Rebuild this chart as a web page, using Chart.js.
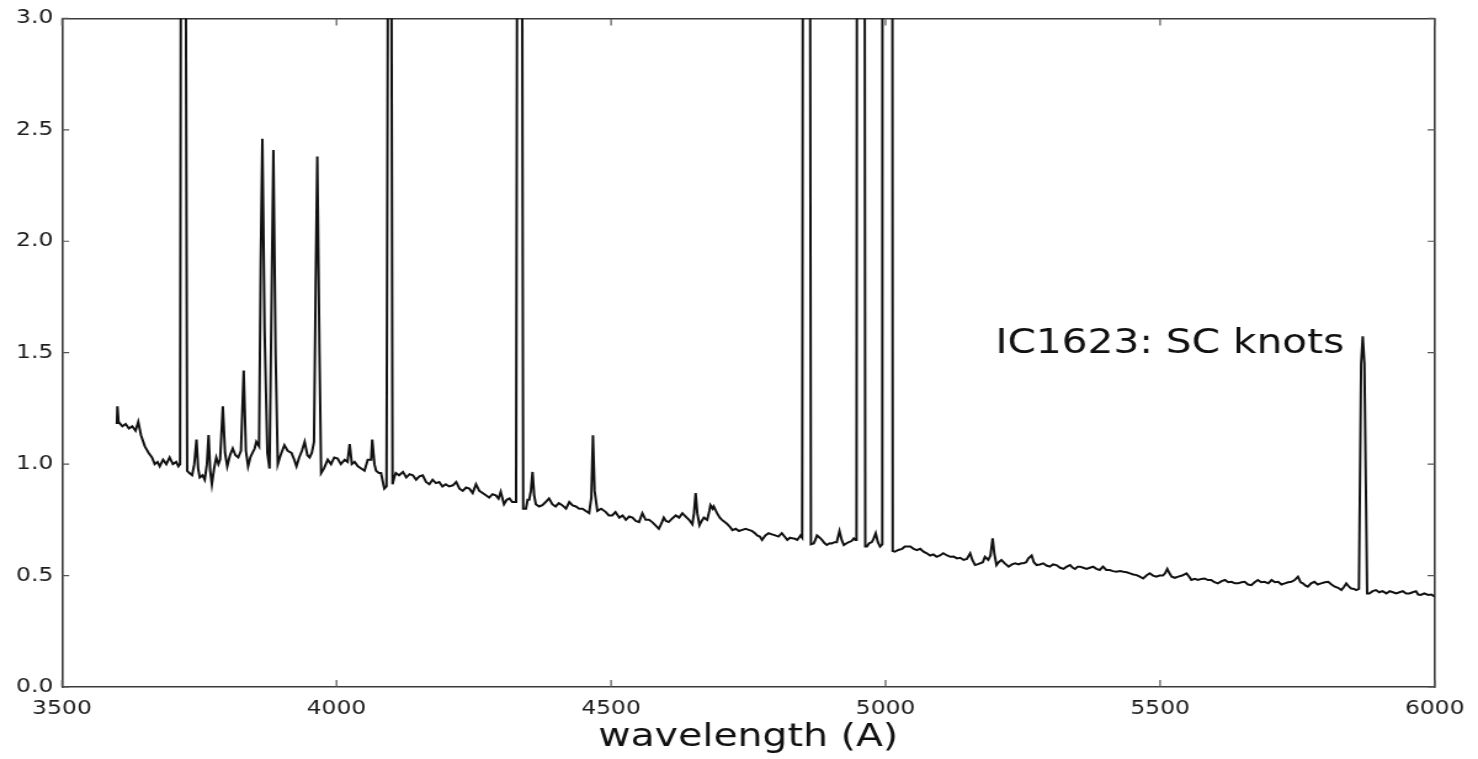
<!DOCTYPE html>
<html>
<head>
<meta charset="utf-8">
<title>IC1623: SC knots</title>
<script src="https://cdn.jsdelivr.net/npm/chart.js@4.4.1/dist/chart.umd.min.js"></script>
<style>
  html, body { margin: 0; padding: 0; background: #ffffff; overflow: hidden; }
  #spec { display: block; }
</style>
</head>
<body>
<canvas id="spec" width="1200" height="759" style="width:1478px;height:759px"></canvas>
<script>
// Observed spectrum of the IC1623 star-cluster knots (wavelength in Angstrom, relative flux)
const wavelength = [
  3600,3601,3603,3610,3616,3622,3628,3634,3639,3644,3651,3658,3664,3669,3674,3678,3684,3690,3696,3702,3708,3712,
  3715,3718,3723,3728,3732,3737,3741,3745,3748,3751,3756,3760,3764,3767,3770,3773,3777,3781,3785,3788,3793,3797,
  3801,3806,3811,3816,3821,3826,3831,3835,3839,3843,3847,3851,3854,3859,3862,3865,3869,3874,3878,3882,3885,3889,
  3893,3898,3905,3911,3918,3923,3927,3932,3937,3942,3947,3951,3955,3959,3962,3965,3969,3972,3977,3984,3990,3996,
  4002,4008,4015,4020,4024,4028,4033,4039,4045,4051,4057,4063,4065,4069,4072,4077,4081,4087,4091,4095,4099,4102,
  4105,4108,4114,4121,4127,4133,4139,4145,4151,4157,4163,4169,4175,4181,4187,4193,4199,4205,4212,4218,4224,4230,
  4236,4242,4248,4254,4260,4266,4272,4278,4284,4290,4295,4299,4305,4310,4315,4320,4324,4327,4331,4336,4340,4345,
  4348,4351,4354,4357,4360,4363,4369,4375,4381,4387,4393,4399,4405,4411,4418,4424,4430,4436,4442,4448,4454,4460,
  4464,4467,4470,4475,4482,4490,4496,4502,4508,4515,4521,4527,4533,4539,4545,4551,4557,4563,4569,4575,4581,4587,
  4592,4596,4600,4605,4611,4618,4624,4630,4636,4642,4648,4651,4654,4657,4661,4665,4669,4675,4679,4681,4685,4687,
  4693,4698,4702,4707,4711,4716,4721,4727,4733,4739,4745,4751,4757,4762,4766,4771,4775,4781,4787,4793,4799,4805,
  4811,4816,4821,4826,4830,4835,4839,4845,4848,4852,4859,4864,4869,4872,4875,4880,4884,4889,4893,4898,4902,4907,
  4911,4916,4920,4924,4929,4933,4938,4942,4945,4947,4951,4958,4963,4966,4970,4975,4978,4982,4986,4990,4994,4998,
  5005,5013,5017,5023,5030,5035,5039,5045,5051,5057,5063,5069,5075,5081,5087,5093,5099,5105,5112,5118,5124,5130,
  5136,5142,5148,5154,5158,5163,5167,5172,5177,5181,5187,5191,5195,5198,5202,5206,5211,5217,5224,5230,5236,5242,
  5247,5251,5256,5260,5266,5270,5275,5281,5287,5293,5299,5305,5311,5318,5324,5330,5336,5341,5345,5350,5354,5360,
  5366,5372,5378,5384,5390,5396,5402,5408,5414,5420,5427,5433,5439,5445,5451,5457,5463,5469,5475,5481,5487,5493,
  5499,5505,5509,5513,5517,5521,5527,5533,5540,5548,5553,5557,5563,5569,5575,5581,5587,5593,5599,5605,5612,5618,
  5624,5630,5636,5642,5648,5654,5660,5666,5672,5678,5684,5690,5697,5703,5709,5715,5721,5727,5733,5739,5745,5751,
  5756,5760,5765,5769,5775,5781,5787,5793,5800,5806,5812,5818,5824,5830,5835,5839,5844,5848,5853,5857,5862,5866,
  5869,5872,5877,5881,5887,5893,5899,5905,5912,5918,5924,5930,5936,5942,5948,5954,5960,5966,5970,5975,5981,5988,
  5994,6000
];
const flux = [
  1.18,1.26,1.19,1.17,1.18,1.16,1.17,1.15,1.19,1.13,1.08,1.05,1.03,1.00,1.01,0.99,1.02,1.00,1.03,1.00,1.01,0.99,
  1.00,5.5,5.5,0.97,0.96,0.95,1.00,1.11,0.98,0.94,0.95,0.93,1.00,1.13,0.97,0.91,0.98,1.03,1.00,1.02,1.26,1.05,
  0.99,1.04,1.07,1.04,1.03,1.06,1.42,1.06,0.99,1.03,1.05,1.07,1.10,1.08,1.90,2.46,1.60,1.05,0.98,1.80,2.41,1.50,
  1.00,1.04,1.085,1.06,1.05,1.02,0.99,1.03,1.06,1.10,1.04,1.03,1.05,1.10,1.80,2.38,1.50,0.96,0.98,1.02,1.00,1.03,
  1.025,1.00,1.02,1.01,1.09,1.00,1.01,0.99,0.98,0.97,1.02,1.02,1.11,1.00,0.97,0.96,0.96,0.89,0.90,4.5,4.5,0.91,
  0.94,0.96,0.95,0.965,0.94,0.955,0.95,0.93,0.945,0.95,0.92,0.91,0.93,0.915,0.92,0.90,0.91,0.90,0.905,0.92,0.89,0.88,
  0.895,0.89,0.87,0.91,0.88,0.87,0.86,0.85,0.865,0.86,0.845,0.876,0.82,0.84,0.846,0.83,0.83,0.83,6.0,6.0,0.80,0.80,
  0.84,0.84,0.88,0.965,0.86,0.82,0.81,0.816,0.83,0.846,0.82,0.81,0.825,0.816,0.80,0.83,0.815,0.81,0.80,0.80,0.79,0.78,
  0.85,1.13,0.88,0.79,0.80,0.786,0.77,0.77,0.785,0.76,0.77,0.75,0.765,0.76,0.745,0.74,0.78,0.75,0.75,0.74,0.725,0.71,
  0.735,0.76,0.745,0.74,0.755,0.77,0.76,0.78,0.765,0.75,0.73,0.78,0.87,0.78,0.726,0.745,0.76,0.75,0.79,0.816,0.80,0.81,
  0.78,0.76,0.75,0.74,0.733,0.72,0.704,0.71,0.70,0.705,0.71,0.705,0.70,0.69,0.68,0.675,0.66,0.68,0.69,0.685,0.68,0.675,
  0.69,0.675,0.66,0.67,0.667,0.665,0.66,0.68,0.67,9.0,9.0,0.64,0.644,0.66,0.68,0.67,0.66,0.645,0.637,0.645,0.644,0.65,
  0.65,0.70,0.66,0.637,0.645,0.65,0.655,0.667,0.66,0.66,14.0,14.0,0.63,0.63,0.645,0.65,0.665,0.69,0.65,0.63,0.64,40.0,
  40.0,0.61,0.607,0.615,0.62,0.63,0.63,0.63,0.62,0.614,0.62,0.607,0.60,0.59,0.595,0.584,0.59,0.60,0.59,0.584,0.585,0.577,
  0.58,0.57,0.575,0.60,0.57,0.547,0.55,0.555,0.56,0.584,0.57,0.59,0.667,0.60,0.547,0.56,0.57,0.555,0.54,0.55,0.555,0.55,
  0.555,0.555,0.56,0.577,0.59,0.56,0.547,0.55,0.555,0.545,0.54,0.55,0.547,0.535,0.53,0.54,0.547,0.535,0.53,0.54,0.54,0.535,
  0.53,0.535,0.54,0.53,0.525,0.54,0.525,0.525,0.52,0.517,0.52,0.517,0.515,0.51,0.505,0.502,0.495,0.487,0.50,0.51,0.50,0.495,
  0.50,0.50,0.51,0.53,0.51,0.495,0.49,0.495,0.50,0.51,0.495,0.48,0.485,0.48,0.485,0.487,0.48,0.48,0.47,0.465,0.475,0.48,
  0.47,0.472,0.465,0.465,0.47,0.472,0.46,0.457,0.47,0.48,0.47,0.472,0.465,0.48,0.47,0.472,0.46,0.465,0.47,0.472,0.48,0.495,
  0.47,0.465,0.455,0.45,0.465,0.472,0.46,0.465,0.47,0.472,0.46,0.45,0.445,0.435,0.45,0.465,0.45,0.442,0.44,0.435,0.44,1.45,
  1.574,1.45,0.42,0.42,0.43,0.435,0.425,0.43,0.42,0.43,0.425,0.42,0.425,0.43,0.42,0.42,0.425,0.43,0.415,0.413,0.42,0.413,
  0.415,0.405
];

// Axis ranges and tick positions
const xTickValues = [3500, 4000, 4500, 5000, 5500, 6000];
const yTickValues = [0.0, 0.5, 1.0, 1.5, 2.0, 2.5, 3.0];
const xRange = [3500, 6000];
const yRange = [0, 3];
const xAxisTitle = 'wavelength (A)';
const plotLabel = { text: 'IC1623: SC knots', x: 5200, y: 1.5 };

const points = wavelength.map((w, i) => ({ x: w, y: flux[i] }));

const FRAME = '#3a3a3a';
const INK = '#1e1e1e';
const FONT = '"DejaVu Sans", "Bitstream Vera Sans", sans-serif';

// Matplotlib-like inward tick marks on all four sides of the frame
const inwardTicks = {
  id: 'inwardTicks',
  afterDraw(chart) {
    const { ctx, chartArea: a, scales } = chart;
    ctx.save();
    ctx.strokeStyle = '#555555';
    ctx.lineWidth = 1.2;
    ctx.beginPath();
    for (const v of xTickValues) {
      const px = scales.x.getPixelForValue(v);
      ctx.moveTo(px, a.bottom); ctx.lineTo(px, a.bottom - 7);
      ctx.moveTo(px, a.top); ctx.lineTo(px, a.top + 7);
    }
    for (const v of yTickValues) {
      const py = scales.y.getPixelForValue(v);
      ctx.moveTo(a.left, py); ctx.lineTo(a.left + 5.8, py);
      ctx.moveTo(a.right, py); ctx.lineTo(a.right - 5.8, py);
    }
    ctx.stroke();
    ctx.restore();
  }
};

// Object name written inside the plot at data coordinates
const plotText = {
  id: 'plotText',
  afterDatasetsDraw(chart) {
    const { ctx, scales } = chart;
    ctx.save();
    ctx.fillStyle = '#111111';
    ctx.font = '33px ' + FONT;
    ctx.textAlign = 'left';
    ctx.textBaseline = 'alphabetic';
    ctx.fillText(plotLabel.text, scales.x.getPixelForValue(plotLabel.x), scales.y.getPixelForValue(plotLabel.y));
    ctx.restore();
  }
};

const frameBorder = { display: true, color: FRAME, width: 1.6 };
const fixedTicks = values => scale => { scale.ticks = values.map(v => ({ value: v })); };

new Chart(document.getElementById('spec').getContext('2d'), {
  type: 'line',
  data: {
    datasets: [{
      data: points,
      borderColor: '#111111',
      borderWidth: 2,
      pointRadius: 0,
      tension: 0,
      fill: false,
      clip: 0
    }]
  },
  options: {
    responsive: false,
    animation: false,
    devicePixelRatio: 1,
    layout: { padding: 0, autoPadding: false },
    plugins: { legend: { display: false }, tooltip: { enabled: false } },
    scales: {
      x: {
        type: 'linear', position: 'bottom', min: xRange[0], max: xRange[1],
        afterBuildTicks: fixedTicks(xTickValues),
        afterFit: s => { s.height = 72; },
        grid: { display: false, drawTicks: false },
        border: frameBorder,
        ticks: { color: INK, padding: 11, maxRotation: 0, autoSkip: false,
                 font: { family: FONT, size: 19 }, callback: v => String(v) },
        title: { display: true, text: xAxisTitle, color: '#111111',
                 font: { family: FONT, size: 32 }, padding: { top: 0, bottom: 2 } }
      },
      x2: {
        type: 'linear', position: 'top', min: xRange[0], max: xRange[1],
        afterBuildTicks: fixedTicks(xTickValues),
        afterFit: s => { s.height = 18; },
        grid: { display: false, drawTicks: false },
        border: frameBorder,
        ticks: { display: false }
      },
      y: {
        type: 'linear', position: 'left', min: yRange[0], max: yRange[1],
        afterBuildTicks: fixedTicks(yTickValues),
        afterFit: s => { s.width = 50.3; },
        grid: { display: false, drawTicks: false },
        border: frameBorder,
        ticks: { color: INK, padding: 7, autoSkip: false,
                 font: { family: FONT, size: 19 }, callback: v => v.toFixed(1) }
      },
      y2: {
        type: 'linear', position: 'right', min: yRange[0], max: yRange[1],
        afterBuildTicks: fixedTicks(yTickValues),
        afterFit: s => { s.width = 33.3; },
        grid: { display: false, drawTicks: false },
        border: frameBorder,
        ticks: { display: false }
      }
    }
  },
  plugins: [inwardTicks, plotText]
});
</script>
</body>
</html>
